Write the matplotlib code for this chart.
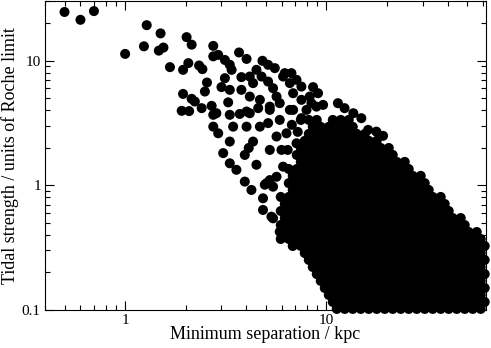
import matplotlib
matplotlib.use("Agg")
import matplotlib.pyplot as plt
from matplotlib.ticker import LogLocator, NullFormatter

sparse_sep = [
    0.5, 0.6, 0.7, 1.0, 1.24, 1.28, 1.50, 1.47, 1.55, 1.67,
    2.02, 2.14, 1.94, 2.06, 2.33, 2.42, 2.74, 2.74, 2.90, 3.13,
    3.31, 3.38, 3.68, 4.01, 4.81, 5.13, 5.54, 4.49, 4.16, 3.78,
    3.13, 2.55, 3.01, 3.31, 2.49, 1.94, 2.14, 2.22, 1.91, 2.08,
    2.40, 2.69, 2.84, 3.25, 3.71, 4.01, 4.58, 4.67, 4.16, 3.78,
    4.32, 4.76, 5.13, 5.43, 5.65, 5.86, 5.23, 6.09, 6.58, 7.10,
    7.51, 6.83, 7.51, 8.26, 8.58, 9.08, 6.83, 7.96, 8.92, 6.21,
    6.70, 9.62, 11.4, 12.3, 13.6, 14.9, 16.1, 17.7, 19.1, 8.42,
    2.74, 3.31, 2.74, 2.90, 3.31, 3.44, 4.01, 3.07, 3.31, 3.57,
    3.93, 4.49, 3.93, 4.24, 4.84, 4.94, 5.43, 5.43, 5.86, 4.32,
    4.67, 4.16, 5.23, 5.13, 5.86, 5.65, 5.23, 5.98, 6.33, 6.58,
    7.51, 7.10, 6.09, 5.65, 5.23, 4.84, 5.33, 6.21, 5.04, 6.73,
    7.20, 6.42, 4.11,
]
sparse_tidal = [
    24.5, 21.2, 24.9, 11.3, 13.0, 19.2, 16.5, 12.0, 12.7, 8.85,
    15.4, 13.4, 8.42, 9.53, 9.12, 8.53, 13.1, 10.8, 11.1, 10.1,
    9.24, 8.42, 11.6, 10.3, 9.95, 9.24, 8.69, 8.42, 7.44, 7.36,
    7.22, 6.66, 6.12, 5.82, 5.64, 5.40, 4.93, 4.69, 3.95, 3.93,
    4.15, 4.33, 3.78, 4.62, 3.73, 3.90, 4.15, 4.84, 5.14, 5.82,
    6.59, 7.44, 6.78, 6.00, 5.14, 4.55, 4.27, 7.44, 6.59, 7.00,
    6.18, 5.47, 4.84, 5.14, 6.12, 5.47, 4.02, 4.02, 4.27, 7.92,
    7.92, 4.41, 4.55, 4.15, 3.78, 3.45, 2.78, 2.69, 2.49, 4.55,
    3.67, 3.67, 2.95, 2.61, 2.24, 2.95, 2.95, 1.81, 1.50, 1.33,
    1.75, 1.46, 1.07, 0.917, 0.786, 1.01, 0.974, 0.543, 0.424, 2.24,
    2.95, 3.78, 4.02, 3.15, 3.34, 2.46, 1.92, 1.92, 2.61, 4.02,
    3.45, 2.17, 1.41, 1.17, 1.10, 0.634, 0.560, 0.387, 1.04, 3.05,
    2.68, 1.92, 1.99,
]

# the crowded wedge at large separation, read band by band
dense_tidal = [
    0.102, 0.116, 0.132, 0.150, 0.171, 0.194, 0.221, 0.252, 0.286, 0.326,
    0.371, 0.422, 0.480, 0.546, 0.622, 0.708, 0.806, 0.917, 1.04, 1.19,
    1.35, 1.54, 1.75, 1.99, 2.27, 2.58, 2.94, 3.34,
]
dense_sep = [
    [11.25, 12.33, 13.51, 14.80, 16.22, 17.77, 19.48, 21.34, 23.39, 25.62, 28.08, 30.77, 33.71, 36.94, 40.48, 44.36, 48.61, 53.27, 58.37],
    [10.75, 11.78, 12.90, 14.14, 15.50, 16.98, 18.61, 20.39, 22.34, 24.48, 26.82, 29.39, 32.20, 35.29, 38.67, 42.37, 46.44, 50.88, 55.77, 61.09],
    [10.27, 11.25, 12.33, 13.51, 14.80, 16.22, 17.77, 19.48, 21.34, 23.39, 25.62, 28.08, 30.77, 33.71, 36.94, 40.48, 44.36, 48.61, 53.27, 58.37],
    [9.81, 10.75, 11.78, 12.90, 14.14, 15.50, 16.98, 18.61, 20.39, 22.34, 24.48, 26.82, 29.39, 32.20, 35.29, 38.67, 42.37, 46.44, 50.88, 55.77, 61.09],
    [9.37, 10.27, 11.25, 12.33, 13.51, 14.80, 16.22, 17.77, 19.48, 21.34, 23.39, 25.62, 28.08, 30.77, 33.71, 36.94, 40.48, 44.36, 48.61, 53.27, 58.37],
    [8.95, 9.81, 10.75, 11.78, 12.90, 14.14, 15.50, 16.98, 18.61, 20.39, 22.34, 24.48, 26.82, 29.39, 32.20, 35.29, 38.67, 42.37, 46.44, 50.88, 55.77, 61.09],
    [8.55, 9.37, 10.27, 11.25, 12.33, 13.51, 14.80, 16.22, 17.77, 19.48, 21.34, 23.39, 25.62, 28.08, 30.77, 33.71, 36.94, 40.48, 44.36, 48.61, 53.27, 58.37],
    [8.17, 8.95, 9.81, 10.75, 11.78, 12.90, 14.14, 15.50, 16.98, 18.61, 20.39, 22.34, 24.48, 26.82, 29.39, 32.20, 35.29, 38.67, 42.37, 46.44, 50.88, 55.77, 61.09],
    [7.80, 8.55, 9.37, 10.27, 11.25, 12.33, 13.51, 14.80, 16.22, 17.77, 19.48, 21.34, 23.39, 25.62, 28.08, 30.77, 33.71, 36.94, 40.48, 44.36, 48.61, 53.27, 58.37],
    [6.80, 7.46, 8.17, 8.95, 9.81, 10.75, 11.78, 12.90, 14.14, 15.50, 16.98, 18.61, 20.39, 22.34, 24.48, 26.82, 29.39, 32.20, 35.29, 38.67, 42.37, 46.44, 50.88, 55.77, 61.09],
    [5.93, 6.50, 7.12, 7.80, 8.55, 9.37, 10.27, 11.25, 12.33, 13.51, 14.80, 16.22, 17.77, 19.48, 21.34, 23.39, 25.62, 28.08, 30.77, 33.71, 36.94, 40.48, 44.36, 48.61, 53.27, 58.37],
    [6.21, 6.80, 7.46, 8.17, 8.95, 9.81, 10.75, 11.78, 12.90, 14.14, 15.50, 16.98, 18.61, 20.39, 22.34, 24.48, 26.82, 29.39, 32.20, 35.29, 38.67, 42.37, 46.44, 50.88, 55.77],
    [5.93, 6.50, 7.12, 7.80, 8.55, 9.37, 10.27, 11.25, 12.33, 13.51, 14.80, 16.22, 17.77, 19.48, 21.34, 23.39, 25.62, 28.08, 30.77, 33.71, 36.94, 40.48, 44.36, 48.61],
    [6.21, 6.80, 7.46, 8.17, 8.95, 9.81, 10.75, 11.78, 12.90, 14.14, 15.50, 16.98, 18.61, 20.39, 22.34, 24.48, 26.82, 29.39, 32.20, 35.29, 38.67, 42.37, 46.44],
    [5.93, 6.50, 7.12, 7.80, 8.55, 9.37, 10.27, 11.25, 12.33, 13.51, 14.80, 16.22, 17.77, 19.48, 21.34, 23.39, 25.62, 28.08, 30.77, 33.71, 36.94, 40.48],
    [6.21, 6.80, 7.46, 8.17, 8.95, 9.81, 10.75, 11.78, 12.90, 14.14, 15.50, 16.98, 18.61, 20.39, 22.34, 24.48, 26.82, 29.39, 32.20, 35.29, 38.67],
    [5.93, 6.50, 7.12, 7.80, 8.55, 9.37, 10.27, 11.25, 12.33, 13.51, 14.80, 16.22, 17.77, 19.48, 21.34, 23.39, 25.62, 28.08, 30.77, 33.71, 36.94],
    [6.80, 7.46, 8.17, 8.95, 9.81, 10.75, 11.78, 12.90, 14.14, 15.50, 16.98, 18.61, 20.39, 22.34, 24.48, 26.82, 29.39, 32.20],
    [6.50, 7.12, 7.80, 8.55, 9.37, 10.27, 11.25, 12.33, 13.51, 14.80, 16.22, 17.77, 19.48, 21.34, 23.39, 25.62, 28.08, 30.77],
    [6.80, 7.46, 8.17, 8.95, 9.81, 10.75, 11.78, 12.90, 14.14, 15.50, 16.98, 18.61, 20.39, 22.34, 24.48, 26.82, 29.39],
    [6.50, 7.12, 7.80, 8.55, 9.37, 10.27, 11.25, 12.33, 13.51, 14.80, 16.22, 17.77, 19.48, 21.34, 23.39, 25.62],
    [7.46, 8.17, 8.95, 9.81, 10.75, 11.78, 12.90, 14.14, 15.50, 16.98, 18.61, 20.39, 22.34, 24.48],
    [7.12, 7.80, 8.55, 9.37, 10.27, 11.25, 12.33, 13.51, 14.80, 16.22, 17.77, 19.48, 21.34],
    [7.46, 8.17, 8.95, 9.81, 10.75, 11.78, 12.90, 14.14, 15.50, 16.98, 18.61, 20.39],
    [7.80, 8.55, 9.37, 10.27, 11.25, 12.33, 13.51, 14.80, 16.22, 17.77],
    [8.17, 8.95, 9.81, 10.75, 11.78, 12.90, 14.14, 15.50],
    [8.55, 9.37, 10.27, 11.25, 12.33, 13.51],
    [7.46, 8.17, 8.95, 10.75, 11.78, 12.90],
]

x_ticks = [1, 10]
x_tick_labels = ["1", "10"]
y_ticks = [0.1, 1, 10]
y_tick_labels = ["0.1", "1", "10"]

plt.rcParams["font.family"] = ["Liberation Serif", "DejaVu Serif"]

sep = list(sparse_sep)
tidal = list(sparse_tidal)
for t, row in zip(dense_tidal, dense_sep):
    sep += row
    tidal += [t] * len(row)

fig = plt.figure(figsize=(4.91, 3.48), dpi=100)
ax = fig.add_axes([45 / 491, 38 / 348, 441 / 491, 309 / 348])

ax.scatter(sep, tidal, s=52, c="black", edgecolors="none",
           zorder=3, clip_on=False)

ax.set_xscale("log")
ax.set_yscale("log")
ax.set_xlim(0.4, 62)
ax.set_ylim(0.1, 30)

ax.set_xticks(x_ticks, labels=x_tick_labels)
ax.set_yticks(y_ticks, labels=y_tick_labels)
ax.xaxis.set_minor_locator(LogLocator(base=10, subs=range(2, 10)))
ax.yaxis.set_minor_locator(LogLocator(base=10, subs=range(2, 10)))
ax.xaxis.set_minor_formatter(NullFormatter())
ax.yaxis.set_minor_formatter(NullFormatter())

ax.tick_params(which="both", direction="in", top=True, right=True,
               width=0.8, labelsize=11, pad=3)
ax.tick_params(which="major", length=6.3)
ax.tick_params(which="minor", length=3.3)
for sp in ax.spines.values():
    sp.set_linewidth(0.8)

ax.set_xlabel("Minimum separation / kpc", fontsize=13, labelpad=-1)
ax.set_ylabel("Tidal strength / units of Roche limit", fontsize=13,
              labelpad=2)

fig.savefig("out.png", dpi=100)
